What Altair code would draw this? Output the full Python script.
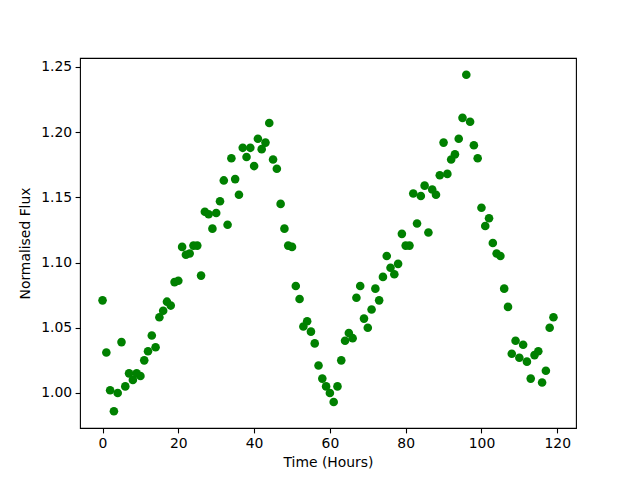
import altair as alt
import pandas as pd

hours = list(range(120))
flux = [
    1.071, 1.031, 1.002, 0.986, 1.000, 1.039, 1.005, 1.015, 1.010, 1.015,
    1.013, 1.025, 1.032, 1.044, 1.035, 1.058, 1.063, 1.070, 1.067, 1.085,
    1.086, 1.112, 1.106, 1.107, 1.113, 1.113, 1.090, 1.139, 1.137, 1.126,
    1.138, 1.147, 1.163, 1.129, 1.180, 1.164, 1.152, 1.188, 1.181, 1.188,
    1.174, 1.195, 1.187, 1.192, 1.207, 1.179, 1.172, 1.145, 1.126, 1.113,
    1.112, 1.082, 1.072, 1.051, 1.055, 1.047, 1.038, 1.021, 1.011, 1.005,
    1.000, 0.993, 1.005, 1.025, 1.040, 1.046, 1.042, 1.073, 1.082, 1.057,
    1.050, 1.064, 1.080, 1.071, 1.089, 1.105, 1.096, 1.091, 1.099, 1.122,
    1.113, 1.113, 1.153, 1.130, 1.151, 1.159, 1.123, 1.156, 1.152, 1.167,
    1.192, 1.168, 1.179, 1.183, 1.195, 1.211, 1.244, 1.208, 1.190, 1.180,
    1.142, 1.128, 1.134, 1.115, 1.107, 1.105, 1.080, 1.066, 1.030, 1.040,
    1.027, 1.037, 1.024, 1.011, 1.029, 1.032, 1.008, 1.017, 1.050, 1.058,
]
x_ticks = [0, 20, 40, 60, 80, 100, 120]
y_ticks = [1.00, 1.05, 1.10, 1.15, 1.20, 1.25]

df = pd.DataFrame({"hours": hours, "flux": flux})

xmin, xmax = min(hours), max(hours)
ymin, ymax = min(flux), max(flux)
xm = 0.05 * (xmax - xmin)
ym = 0.05 * (ymax - ymin)

FONT = "DejaVu Sans"

chart = (
    alt.Chart(df)
    .mark_circle(color="#008000", opacity=1, size=74)
    .encode(
        x=alt.X(
            "hours:Q",
            title="Time (Hours)",
            scale=alt.Scale(domain=[xmin - xm, xmax + xm], nice=False, zero=False),
            axis=alt.Axis(values=x_ticks, format="d"),
        ),
        y=alt.Y(
            "flux:Q",
            title="Normalised Flux",
            scale=alt.Scale(domain=[ymin - ym, ymax + ym], nice=False, zero=False),
            axis=alt.Axis(values=y_ticks, format=".2f"),
        ),
    )
    .properties(
        width=496,
        height=370,
        autosize=alt.AutoSizeParams(type="none"),
        padding={"left": 72, "top": 50, "right": 56, "bottom": 45},
    )
    .configure_view(stroke="black", strokeWidth=1.1)
    .configure_axis(
        grid=False,
        domain=False,
        tickColor="black",
        tickSize=4.9,
        tickWidth=1.1,
        labelFont=FONT,
        labelFontSize=13.9,
        labelColor="black",
        labelPadding=3.5,
        titleFont=FONT,
        titleFontSize=13.9,
        titleFontWeight="normal",
        titleColor="black",
    )
    .configure_axisX(titlePadding=5)
    .configure_axisY(titlePadding=8)
)

chart.save("out.html", embed_options={"renderer": "svg", "actions": False})
